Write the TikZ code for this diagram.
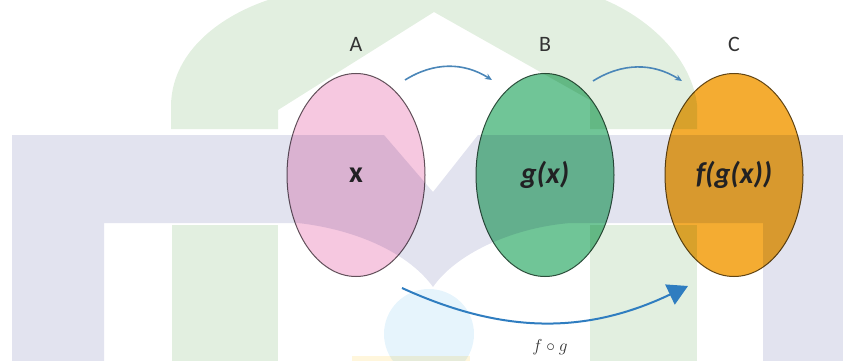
\documentclass[tikz,border=0pt]{standalone}
\usepackage{fontspec}
\setmainfont{Carlito}
\usetikzlibrary{shapes.geometric, arrows.meta, positioning}

\definecolor{setpink}{HTML}{F6C8E0}
\definecolor{setgreen}{HTML}{70C597}
\definecolor{setorange}{HTML}{F4AC32}
\definecolor{mapblue}{HTML}{4A86B8}
\definecolor{fogblue}{HTML}{2F7DC0}
\definecolor{wmlav}{HTML}{E2E3EF}
\definecolor{wmgreen}{HTML}{E2EFE0}
\definecolor{wmsky}{HTML}{E6F4FC}
\definecolor{wmsand}{HTML}{FFF6DC}
\definecolor{labgrey}{HTML}{333333}

\begin{document}
\begin{tikzpicture}[x=1pt, y=-1pt,
  setbox/.style={ellipse, draw=#1!40!black, line width=1pt, fill=#1,
    minimum width=138pt, minimum height=203pt, inner sep=0pt,
    font=\fontsize{30}{30}\selectfont\bfseries\itshape, text=black!85},
  setname/.style={inner sep=0pt, font=\fontsize{22}{22}\selectfont, text=labgrey},
  map/.style={-{Stealth[length=7pt,width=6pt]}, mapblue, line width=1.6pt},
  fogmap/.style={-{Triangle[length=20pt,width=22pt]}, fogblue, line width=2pt}]
  \useasboundingbox (0,0) rectangle (843,361);
  \clip (0,0) rectangle (843,361);

  % the three sets
  \node[setbox=setpink] (A) at (356,175) {\upshape x};
  \node[setbox=setgreen] (B) at (545,175) {g(x)};
  \node[setbox=setorange] (C) at (734,175) {f(g(x))};

  % watermark behind the picture
  \begin{scope}[blend mode=multiply]
    \fill[wmgreen] (171,129) -- (171,105) .. controls (172,55) and (215,18) .. (268,0)
      -- (605,0) .. controls (652,20) and (692,60) .. (697,105) -- (697,129)
      -- (590,129) -- (590,100) -- (434,12) -- (278,110) -- (278,129) -- cycle;
    \fill[wmgreen] (172,225) rectangle (278,361);
    \fill[wmgreen] (590,225) rectangle (697,361);
    \fill[wmlav] (12,135) -- (384,135) -- (433,192) -- (478,135) -- (843,135)
      -- (843,361) -- (763,361) -- (763,223) -- (570,223)
      .. controls (510,228) and (455,255) .. (433,287)
      .. controls (410,255) and (360,230) .. (298,223)
      -- (104,223) -- (104,361) -- (12,361) -- cycle;
    \fill[wmsky] (429,334) circle (45);
    \fill[wmsand] (352,356) rectangle (470,361);
  \end{scope}

  % names of the sets
  \node[setname, above=21pt of A] (nameA) {A};
  \node[setname, above=21pt of B] (nameB) {B};
  \node[setname, above=21pt of C] (nameC) {C};

  % maps
  \coordinate (gS) at ([shift={(49,-95)}]A.center);
  \coordinate (gE) at ([shift={(-53,-95)}]B.center);
  \coordinate (fS) at ([shift={(48,-94)}]B.center);
  \coordinate (fE) at ([shift={(-52,-94)}]C.center);
  \draw[map] (gS) to[bend left=32] (gE);
  \draw[map] (fS) to[bend left=32] (fE);

  \coordinate (fogS) at ([shift={(46,113)}]A.center);
  \coordinate (fogE) at ([shift={(-46,111)}]C.center);
  \draw[fogmap] (fogS) to[bend right=25] (fogE);
  \node[inner sep=0pt, text=labgrey, font=\fontsize{18}{18}\selectfont] (fog) at (550,347) {$f\circ g$};
\end{tikzpicture}
\end{document}
